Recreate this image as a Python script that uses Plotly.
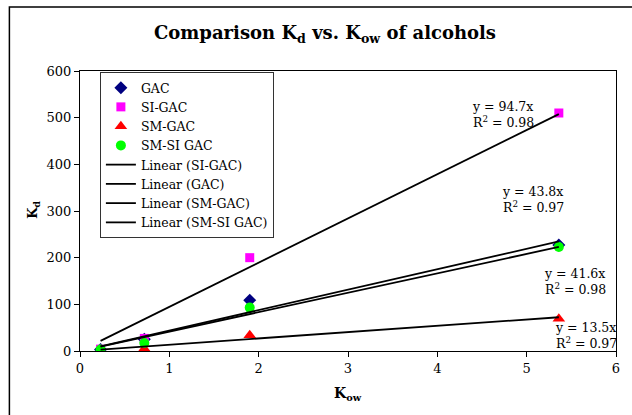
import plotly.graph_objects as go

kow = [0.23, 0.72, 1.9, 5.36]
gac = [3, 25, 109, 227]
si_gac = [4, 27, 200, 510]
sm_gac = [1, 5, 34, 69]
sm_si_gac = [3, 17, 93, 223]

slopes = {"SI-GAC": 94.7, "GAC": 43.8, "SM-GAC": 13.5, "SM-SI GAC": 41.6}
r2 = {"SI-GAC": 0.98, "GAC": 0.97, "SM-GAC": 0.97, "SM-SI GAC": 0.98}

x_ticks = [0, 1, 2, 3, 4, 5, 6]
y_ticks = [0, 100, 200, 300, 400, 500, 600]

FONT = "DejaVu Serif"
FS = 12.5
W, H = 632, 415
ML, MR, MT, MB = 80, 13, 71, 64
PW, PH = W - ML - MR, H - MT - MB


def px2paper(px, py):
    return (px - ML) / PW, (H - MB - py) / PH


fig = go.Figure()

series = [
    ("GAC", gac, dict(symbol="diamond", color="#000080", size=10)),
    ("SI-GAC", si_gac, dict(symbol="square", color="#FF00FF", size=9)),
    ("SM-GAC", sm_gac, dict(symbol="triangle-up", color="#FF0000", size=11)),
    ("SM-SI GAC", sm_si_gac, dict(symbol="circle", color="#00FF00", size=10)),
]
for name, ys, mk in series:
    fig.add_trace(go.Scatter(x=kow, y=ys, mode="markers", name=name, marker=mk))

x0, x1 = min(kow), max(kow)
for name in ["SI-GAC", "GAC", "SM-GAC", "SM-SI GAC"]:
    k = slopes[name]
    fig.add_trace(go.Scatter(x=[x0, x1], y=[k * x0, k * x1], mode="lines",
                             name=f"Linear ({name})",
                             line=dict(color="black", width=1.8)))

# equation labels (left edge px, center py)
label_pos = {"SI-GAC": (472, 114), "GAC": (502, 199), "SM-SI GAC": (545, 281), "SM-GAC": (556, 335)}
for name, (lx, ly) in label_pos.items():
    ax, ay = px2paper(lx, ly)
    fig.add_annotation(x=ax, y=ay, xref="paper", yref="paper", xanchor="left", yanchor="middle",
                       text=f"y = {slopes[name]}x<br>R<sup>2</sup> = {r2[name]}", showarrow=False,
                       align="left", font=dict(family=FONT, size=FS, color="black"))

# axis titles
ax, ay = px2paper(22, 210)
fig.add_annotation(x=ax, y=ay, xref="paper", yref="paper", text="<b>K<sub>d</sub></b>", showarrow=False,
                   textangle=-90, font=dict(family=FONT, size=13, color="black"))
ax, ay = px2paper(350, 405)
fig.add_annotation(x=ax, y=ay, xref="paper", yref="paper", text="<b>K<sub>ow</sub></b>", showarrow=False,
                   font=dict(family=FONT, size=14, color="black"))

# outer frame
fx0, fy0 = px2paper(9, 7)
fx1, fy1 = px2paper(645, 425)
fig.add_shape(type="rect", xref="paper", yref="paper", x0=fx0, y0=fy1, x1=fx1, y1=fy0,
              line=dict(color="black", width=1.5), layer="below")

fig.update_layout(
    width=W, height=H,
    margin=dict(l=ML, r=MR, t=MT, b=MB),
    paper_bgcolor="white", plot_bgcolor="white",
    title=dict(text="<b>Comparison K<sub>d</sub> vs. K<sub>ow</sub> of alcohols</b>",
               x=325 / W, xref="container", xanchor="center", y=1 - 33 / H, yanchor="middle",
               font=dict(family=FONT, size=18, color="black")),
    font=dict(family=FONT, size=FS, color="black"),
    showlegend=True,
    legend=dict(x=px2paper(100, 0)[0], y=1 - 1 / PH, xanchor="left", yanchor="top",
                bordercolor="#333333", borderwidth=1, bgcolor="white",
                font=dict(family=FONT, size=FS, color="black"), tracegroupgap=0),
    xaxis=dict(range=[0, 6], tickvals=x_ticks, showgrid=False, zeroline=False,
               showline=True, linecolor="black", linewidth=1.2, mirror=True,
               ticks="outside", ticklen=5, tickcolor="black",
               tickfont=dict(family=FONT, size=13, color="black")),
    yaxis=dict(range=[0, 600], tickvals=y_ticks, showgrid=False, zeroline=False,
               showline=True, linecolor="black", linewidth=1.2, mirror=True,
               ticks="outside", ticklen=5, tickcolor="black",
               tickfont=dict(family=FONT, size=13, color="black")),
)

fig.write_html("out.html", config={"displayModeBar": False},
               post_script="document.body.style.margin='0';")
